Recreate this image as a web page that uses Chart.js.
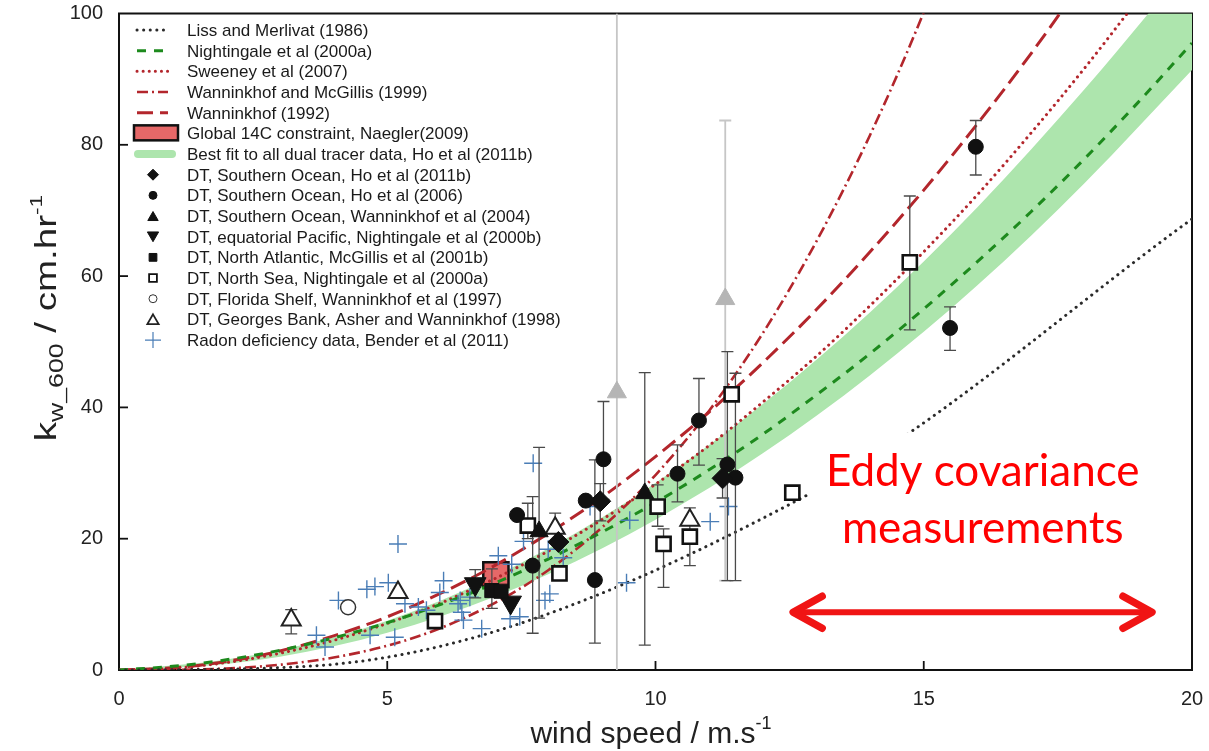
<!DOCTYPE html>
<html><head><meta charset="utf-8">
<script src="https://cdn.jsdelivr.net/npm/chart.js@4.4.1/dist/chart.umd.min.js"></script>
<style>html,body{margin:0;padding:0;background:#fff;}canvas{display:block;}</style>
</head><body>
<canvas id="c" width="1209" height="751"></canvas>
<script>
// ---------- axes ----------
const xTicks = [0, 5, 10, 15, 20];
const yTicks = [0, 20, 40, 60, 80, 100];

// ---------- parameterisation curves ----------
const lissU = [0, 3.6, 13, 20];
const lissK = [0, 0.61, 27.4, 68.7];
const nightU = [0,1,2,3,4,5,6,7,8,9,10,11,12,13,14,15,16,17,18,19,20];
const nightK = [0,0.56,1.55,3.0,4.9,7.2,10.0,13.2,16.9,21.0,25.5,30.5,35.9,41.9,48.2,55.0,62.2,69.8,77.9,86.5,95.5];
const sweenU = [0,1,2,3,4,5,6,7,8,9,10,11,12,13,14,15,16,17,18,19];
const sweenK = [0,0.28,1.13,2.55,4.5,7.1,10.2,13.9,18.1,22.9,28.3,34.2,40.8,47.8,55.5,63.7,72.4,81.8,91.7,102.2];
const wmU = [0,1,2,3,4,5,6,7,8,9,10,11,12,13,14,15,16];
const wmK = [0,0.03,0.24,0.8,1.9,3.7,6.4,10.2,15.2,21.7,29.7,39.5,51.3,65.3,81.5,100.2,121.7];
const w92U = [0,1,2,3,4,5,6,7,8,9,10,11,12,13,14,15,16,17,18];
const w92K = [0,0.33,1.3,2.9,5.2,8.1,11.7,15.9,20.8,26.3,32.5,39.3,46.8,54.9,63.7,73.1,83.2,93.9,105.3];
const bandU = [0,2,4,6,8,10,12,14,16,18,20];
const bandUpper = [0,1.6,5.0,10.6,18.5,28.5,40.5,54.5,70.5,88.5,108];
const bandLower = [0,0.9,3.6,8.2,14.6,22.9,33.0,44.9,58.6,74.2,91.4];
const naeglerU = [6.79, 7.26];
const naeglerK = [12.6, 16.4];

// ---------- observations: [wind, k, errLow, errHigh] ----------
const hoSO2011b = [[8.19,19.5],[8.97,25.7,22.7,28.4],[11.25,29.2,26.2,32.2]];
const hoSO2006 = [[7.42,23.6],[7.71,15.9,5.6,26.4],[8.70,25.8],[8.87,13.7,4.1,32.0],[9.03,32.1,26.0,40.9],
  [10.41,29.9,25.6,34.3],[10.81,38.0,31.2,44.4],[11.34,31.3,13.6,48.5],[11.49,29.3,13.6,45.2],
  [15.49,52.1,48.7,55.3],[15.97,79.7,75.4,83.7]];
const wann2004 = [[7.83,21.1,7.9,33.9],[9.80,26.9,3.8,45.3]];
const night2000b = [[6.64,13.1,11.0,15.3],[7.30,10.3]];
const mcgillis2001b = [[6.95,12.1,9.4,15.4],[7.12,12.0]];
const northSea2000a = [[5.89,7.45],[7.62,22.0,20.0,25.4],[8.21,14.7],[10.04,24.9,21.9,28.2],[10.15,19.2,12.6,21.5],
  [10.64,20.3,15.9,21.0],[11.42,42.0],[12.55,27.0,26.3,27.6],[14.74,62.1,51.8,72.2]];
const florida1997 = [[4.27,9.56]];
const georges1998 = [[3.21,7.6,5.5,9.2],[5.20,11.8],[8.13,21.6,19.5,23.9],[10.64,22.8,21.0,24.7]];
const greyPoints = [[9.28,42.3,0,100],[11.30,56.5,13.6,83.7]];
const radon2011 = [[3.68,5.3],[3.84,3.5],[4.09,10.6],[4.62,12.3],[4.77,12.7],[5.02,13.3],[5.20,19.2],[4.68,5.3],
  [5.14,5.0],[5.33,10.1],[5.58,9.6],[5.73,9.1],[6.05,13.6],[5.98,11.8],[6.32,10.1],[6.42,7.6],[6.76,6.3],
  [6.54,11.1],[6.36,10.6],[7.07,17.4],[7.32,16.1],[7.72,31.5],[8.00,18.4],[8.28,17.1],[8.03,11.6],[7.94,10.6],
  [7.29,7.8],[7.47,8.1],[6.39,8.8],[7.54,19.6],[8.78,24.9],[9.52,22.8],[11.02,22.6],[11.36,24.9],[9.46,13.3]];

const legendLabels = ['Liss and Merlivat (1986)','Nightingale et al (2000a)','Sweeney et al (2007)',
  'Wanninkhof and McGillis (1999)','Wanninkhof (1992)','Global 14C constraint, Naegler(2009)',
  'Best fit to all dual tracer data, Ho et al (2011b)','DT, Southern Ocean, Ho et al (2011b)',
  'DT, Southern Ocean, Ho et al (2006)','DT, Southern Ocean, Wanninkhof et al (2004)',
  'DT, equatorial Pacific, Nightingale et al (2000b)','DT, North Atlantic, McGillis et al (2001b)',
  'DT, North Sea, Nightingale et al (2000a)','DT, Florida Shelf, Wanninkhof et al (1997)',
  'DT, Georges Bank, Asher and Wanninkhof (1998)','Radon deficiency data, Bender et al (2011)'];
const annotationLines = ['Eddy covariance', 'measurements'];

// ---------- styling ----------
const RED = '#b3262c', GREEN = '#1d8a1d', BLUE = '#4a7db6', BLK = '#111';
const FONT = '"Liberation Sans", Arial, sans-serif';
Chart.defaults.font.family = FONT;

const curve = (us, ks) => us.map((u, i) => ({x: u, y: ks[i]}));
const pts = arr => arr.map(([x, y, lo, hi]) => ({x, y, lo: lo ?? null, hi: hi ?? null}));

function lineDs(label, us, ks, color, width, dash, cap) {
  return {type: 'line', label, data: curve(us, ks), borderColor: color, borderWidth: width,
    borderDash: dash, borderCapStyle: cap || 'butt', pointRadius: 0, fill: false,
    cubicInterpolationMode: 'monotone', order: 8};
}
function markDs(label, arr, style, r, bg, border, bw, rot, order, errColor) {
  return {type: 'scatter', label, data: pts(arr), pointStyle: style, pointRadius: r,
    pointBackgroundColor: bg, pointBorderColor: border, pointBorderWidth: bw, pointRotation: rot || 0,
    order: order, errColor: errColor || '#4a4a4a'};
}

const datasets = [
  {type: 'line', label: 'bandLower', data: curve(bandU, bandLower), borderWidth: 0, pointRadius: 0,
   fill: false, cubicInterpolationMode: 'monotone', order: 11, borderColor: 'rgba(0,0,0,0)'},
  {type: 'line', label: 'bandUpper', data: curve(bandU, bandUpper), borderWidth: 0, pointRadius: 0,
   fill: '-1', backgroundColor: '#ade5ad', cubicInterpolationMode: 'monotone', order: 10, borderColor: 'rgba(0,0,0,0)'},
  {type: 'line', label: 'naegler', data: [
     {x: naeglerU[0], y: naeglerK[0]}, {x: naeglerU[1], y: naeglerK[0]},
     {x: naeglerU[1], y: naeglerK[1]}, {x: naeglerU[0], y: naeglerK[1]}, {x: naeglerU[0], y: naeglerK[0]}],
   borderColor: BLK, borderWidth: 2.5, backgroundColor: '#e66868', fill: 'shape', pointRadius: 0, tension: 0, order: 9},
  lineDs('liss', lissU, lissK, '#2a2a2a', 3, [0.1, 6.5], 'round'),
  lineDs('night', nightU, nightK, GREEN, 3, [9, 8]),
  lineDs('sween', sweenU, sweenK, RED, 3, [0.1, 6], 'round'),
  lineDs('wm', wmU, wmK, RED, 2.6, [11, 4, 2, 4]),
  lineDs('w92', w92U, w92K, RED, 3, [16, 7]),
  {type: 'scatter', label: 'radon', data: pts(radon2011), pointStyle: 'cross', pointRadius: 9,
   pointBorderColor: BLUE, pointBorderWidth: 1.4, order: 7},
  markDs('grey', greyPoints, 'triangle', 11, '#b5b5b5', '#b5b5b5', 1, 0, 6, '#c6c6c6'),
  markDs('georges', georges1998, 'triangle', 11, '#fff', '#222', 2, 0, 5),
  markDs('florida', florida1997, 'circle', 7.5, '#fff', '#333', 1.5, 0, 5),
  markDs('northsea', northSea2000a, 'rect', 10, '#fff', BLK, 2.6, 0, 4),
  markDs('mcgillis', mcgillis2001b, 'rect', 10, BLK, BLK, 1, 0, 3),
  markDs('night2000b', night2000b, 'triangle', 12.5, BLK, BLK, 1, 180, 3),
  markDs('wann2004', wann2004, 'triangle', 10.5, BLK, BLK, 1, 0, 2),
  markDs('ho2006', hoSO2006, 'circle', 7.5, BLK, BLK, 1, 0, 2),
  markDs('ho2011b', hoSO2011b, 'rectRot', 10.5, BLK, BLK, 1, 0, 1),
];

function drawErrorBars(chart) {
  const {ctx, chartArea: a, scales: {x, y}} = chart;
  ctx.save();
  ctx.beginPath(); ctx.rect(a.left, a.top, a.right - a.left, a.bottom - a.top); ctx.clip();
  chart.data.datasets.forEach(ds => {
    if (!ds.errColor) return;
    ctx.strokeStyle = ds.errColor; ctx.lineWidth = ds.label === 'grey' ? 1.8 : 1.3;
    ds.data.forEach(p => {
      if (p.lo == null) return;
      const px = x.getPixelForValue(p.x), p1 = y.getPixelForValue(p.lo), p2 = y.getPixelForValue(p.hi);
      ctx.beginPath(); ctx.moveTo(px, p1); ctx.lineTo(px, p2);
      if (p.lo > 0) { ctx.moveTo(px - 6, p1); ctx.lineTo(px + 6, p1); }
      if (p.hi < 100) { ctx.moveTo(px - 6, p2); ctx.lineTo(px + 6, p2); }
      ctx.stroke();
    });
  });
  ctx.restore();
}

function drawPieces(ctx, pieces, startX, baseY) {
  let cx = startX;
  pieces.forEach(p => {
    ctx.font = p.size + 'px ' + FONT;
    ctx.fillText(p.t, cx, baseY + (p.dy || 0));
    cx += ctx.measureText(p.t).width;
  });
}
function piecesWidth(ctx, pieces) {
  return pieces.reduce((s, p) => { ctx.font = p.size + 'px ' + FONT; return s + ctx.measureText(p.t).width; }, 0);
}

function drawLegend(chart) {
  const ctx = chart.ctx;
  const byLabel = l => chart.data.datasets.find(d => d.label === l);
  const lineKeys = ['liss', 'night', 'sween', 'wm', 'w92'];
  const markKeys = ['ho2011b', 'ho2006', 'wann2004', 'night2000b', 'mcgillis', 'northsea', 'florida', 'georges', 'radon'];
  const markR = {ho2011b: 5.5, ho2006: 4, wann2004: 6, night2000b: 6.5, mcgillis: 5.5, northsea: 5.5, florida: 4, georges: 6.5, radon: 8};
  const x0 = 137, x1 = 168, xc = 153, tx = 187;
  ctx.save();
  legendLabels.forEach((lab, i) => {
    const yc = 30 + i * 20.67;
    if (i < 5) {
      const d = byLabel(lineKeys[i]);
      ctx.strokeStyle = d.borderColor; ctx.lineWidth = d.borderWidth;
      ctx.setLineDash(d.borderDash); ctx.lineCap = d.borderCapStyle;
      ctx.beginPath(); ctx.moveTo(x0, yc); ctx.lineTo(x1, yc); ctx.stroke();
      ctx.setLineDash([]); ctx.lineCap = 'butt';
    } else if (i === 5) {
      ctx.fillStyle = '#e66868'; ctx.fillRect(134, yc - 8, 44, 15);
      ctx.strokeStyle = BLK; ctx.lineWidth = 2.5; ctx.strokeRect(134, yc - 8, 44, 15);
    } else if (i === 6) {
      ctx.strokeStyle = '#ade5ad'; ctx.lineWidth = 8; ctx.lineCap = 'round';
      ctx.beginPath(); ctx.moveTo(138, yc); ctx.lineTo(172, yc); ctx.stroke(); ctx.lineCap = 'butt';
    } else {
      const key = markKeys[i - 7], d = byLabel(key);
      ctx.fillStyle = d.pointBackgroundColor || '#fff';
      ctx.strokeStyle = d.pointBorderColor;
      ctx.lineWidth = key === 'radon' ? 1.2 : (d.pointBorderWidth > 1.5 ? 1.8 : 1);
      Chart.helpers.drawPoint(ctx, {pointStyle: d.pointStyle, radius: markR[key], rotation: d.pointRotation || 0,
        borderWidth: ctx.lineWidth}, xc, yc + (key === 'georges' || key === 'wann2004' ? 1.5 : 0) - (key === 'night2000b' ? 1.5 : 0));
    }
    ctx.fillStyle = '#1a1a1a'; ctx.font = '17px ' + FONT; ctx.textAlign = 'left'; ctx.textBaseline = 'alphabetic';
    ctx.fillText(lab, tx, yc + 6);
  });
  ctx.restore();
}

const customPlugin = {
  id: 'custom',
  beforeDatasetsDraw(chart) {
    const {ctx, chartArea: a, scales: {x, y}} = chart;
    ctx.save();
    ctx.strokeStyle = BLK; ctx.lineWidth = 2;
    ctx.strokeRect(a.left, a.top, a.right - a.left, a.bottom - a.top);
    ctx.lineWidth = 1.8;
    xTicks.forEach(v => { if (v <= 0 || v >= 20) return; const px = x.getPixelForValue(v);
      ctx.beginPath(); ctx.moveTo(px, a.bottom); ctx.lineTo(px, a.bottom - 9); ctx.stroke(); });
    yTicks.forEach(v => { if (v <= 0 || v >= 100) return; const py = y.getPixelForValue(v);
      ctx.beginPath(); ctx.moveTo(a.left, py); ctx.lineTo(a.left + 9, py); ctx.stroke(); });
    ctx.restore();
  },
  afterDatasetDraw(chart, args) {
    if (chart.data.datasets[args.index].label === 'radon') drawErrorBars(chart);
  },
  afterDraw(chart) {
    const {ctx, scales: {x, y}} = chart;
    ctx.save();
    // white panel behind the annotation
    const bx0 = x.getPixelForValue(12.85), bx1 = x.getPixelForValue(19.93);
    const by0 = y.getPixelForValue(36.2), by1 = y.getPixelForValue(2.3);
    ctx.fillStyle = '#fff'; ctx.fillRect(bx0, by0, bx1 - bx0, by1 - by0);
    // annotation text
    ctx.fillStyle = '#ff0000'; ctx.font = '44px Lato, "Open Sans", sans-serif'; ctx.textAlign = 'center';
    const tcx = x.getPixelForValue(16.1);
    ctx.fillText(annotationLines[0], tcx, y.getPixelForValue(28.1));
    ctx.fillText(annotationLines[1], tcx, y.getPixelForValue(19.3));
    // double arrow
    const ax0 = x.getPixelForValue(12.51), ax1 = x.getPixelForValue(19.31), ay = y.getPixelForValue(8.8);
    ctx.strokeStyle = '#f01414'; ctx.lineCap = 'round'; ctx.lineJoin = 'round';
    ctx.lineWidth = 6; ctx.beginPath(); ctx.moveTo(ax0 + 4, ay); ctx.lineTo(ax1 - 4, ay); ctx.stroke();
    ctx.lineWidth = 7.5; ctx.beginPath();
    ctx.moveTo(ax0 + 32, ay - 16); ctx.lineTo(ax0 + 3, ay); ctx.lineTo(ax0 + 32, ay + 16);
    ctx.moveTo(ax1 - 32, ay - 16); ctx.lineTo(ax1 - 3, ay); ctx.lineTo(ax1 - 32, ay + 16);
    ctx.stroke();
    ctx.restore();

    drawLegend(chart);

    // axis titles
    ctx.save();
    ctx.fillStyle = '#222'; ctx.textAlign = 'left'; ctx.textBaseline = 'alphabetic';
    const xt = [{t: 'wind speed / m.s', size: 30}, {t: '-1', size: 18, dy: -14}];
    const xw = piecesWidth(ctx, xt);
    drawPieces(ctx, xt, 651 - xw / 2, 743);
    ctx.translate(56, 318); ctx.rotate(-Math.PI / 2); ctx.scale(1.33, 1);
    const yt = [{t: 'k', size: 29}, {t: 'w_600', size: 20, dy: 7}, {t: ' / cm.hr', size: 29}, {t: '-1', size: 17, dy: -14}];
    const yw = piecesWidth(ctx, yt);
    drawPieces(ctx, yt, -yw / 2, 0);
    ctx.restore();
  }
};

new Chart(document.getElementById('c'), {
  type: 'scatter',
  data: {datasets},
  options: {
    responsive: false, animation: false, events: [],
    layout: {padding: {top: 8, right: 17, left: 0, bottom: 0}},
    plugins: {legend: {display: false}, tooltip: {enabled: false}},
    scales: {
      x: {type: 'linear', min: 0, max: 20,
        afterBuildTicks: s => { s.ticks = xTicks.map(v => ({value: v})); },
        afterFit: s => { s.height = 81; s.paddingLeft = 0; s.paddingRight = 0; s.paddingTop = 0; s.paddingBottom = 0; },
        grid: {display: false, drawTicks: false}, border: {display: false},
        ticks: {padding: 17, color: '#222', font: {size: 20}, maxRotation: 0}},
      y: {type: 'linear', min: 0, max: 100,
        afterBuildTicks: s => { s.ticks = yTicks.map(v => ({value: v})); },
        afterFit: s => { s.width = 119; s.paddingTop = 0; s.paddingBottom = 0; s.paddingLeft = 0; s.paddingRight = 0; },
        grid: {display: false, drawTicks: false}, border: {display: false},
        ticks: {padding: 16, color: '#222', font: {size: 20}}}
    }
  },
  plugins: [customPlugin]
});
</script>
</body></html>
